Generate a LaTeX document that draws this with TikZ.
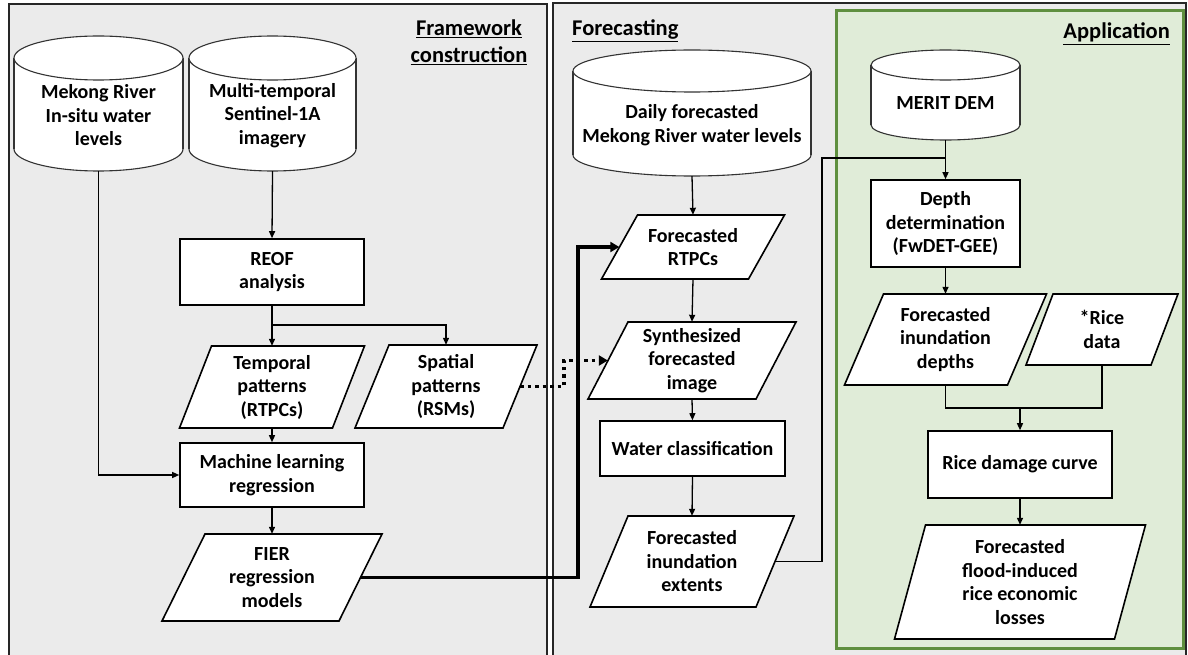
\documentclass[tikz,border=0pt]{standalone}
\usepackage{fontspec}
\setmainfont{Carlito}
\usetikzlibrary{arrows.meta}
\definecolor{panelgray}{HTML}{EBEBEB}
\definecolor{appfill}{HTML}{E0ECD8}
\definecolor{appline}{HTML}{5F8F3F}
\tikzset{
  panel/.style={draw=black!85, line width=2.6pt, fill=panelgray},
  apppanel/.style={draw=appline, line width=3pt, fill=appfill},
  txt/.style={inner sep=0pt, align=center, font=\fontsize{20}{23.5}\selectfont\bfseries},
  box/.style={txt, draw, line width=1.6pt, fill=white},
  shapeline/.style={draw, line width=1.6pt},
  cylline/.style={draw=black!80, line width=1.1pt},
  ttl/.style={inner sep=0pt, align=center, font=\fontsize{22.5}{27}\selectfont\bfseries},
  conn/.style={line width=1.3pt},
  arr/.style={conn, -{Triangle[length=7pt,width=6pt]}},
  thickarr/.style={line width=3.4pt, -{Triangle[length=9pt,width=10pt]}},
  dotarr/.style={line width=3.2pt, dash pattern=on 3.5pt off 4pt, -{Triangle[length=9pt,width=10pt]}},
}
\newcommand\drawcyl[8]{%
  \pgfmathsetmacro\cylcx{(#2+#3)/2}%
  \pgfmathsetmacro\cylrx{(#3-#2)/2}%
  \pgfmathsetmacro\cylyt{#4+#6}%
  \pgfmathsetmacro\cylyb{#5-#6}%
  \filldraw[cylline, fill=white] (\cylcx,\cylyb) ellipse[x radius=\cylrx, y radius=#6];
  \fill[white] (#2,\cylyt) rectangle (#3,\cylyb);
  \draw[cylline] (#2,\cylyt) -- (#2,\cylyb) (#3,\cylyt) -- (#3,\cylyb);
  \filldraw[cylline, fill=white] (\cylcx,\cylyt) ellipse[x radius=\cylrx, y radius=#6];
  \node[inner sep=0pt, minimum width=#3-#2, minimum height=#5-#4] (#1) at (\cylcx,{(#4+#5)/2}) {};
  \node[txt] (#1-t) at (\cylcx,#7) {#8};
}
\newcommand\drawpara[7]{%
  \pgfmathsetmacro\parTL{#2-#5/2+#6/2}%
  \pgfmathsetmacro\parTR{#2+#5/2+#6/2}%
  \pgfmathsetmacro\parBR{#2+#5/2-#6/2}%
  \pgfmathsetmacro\parBL{#2-#5/2-#6/2}%
  \draw[shapeline, fill=white] (\parTL,#3) -- (\parTR,#3) -- (\parBR,#4) -- (\parBL,#4) -- cycle;
  \node[txt, minimum width=#5, minimum height=#4-#3] (#1) at (#2,{(#3+#4)/2}) {#7};
}
\begin{document}
\begin{tikzpicture}[x=1pt,y=-1pt]
\clip (0,0) rectangle (1188,655);
\fill[white] (0,0) rectangle (1188,655);
% panels
\draw[panel] (9,4) rectangle (547,672);
\draw[panel] (553,3) rectangle (1186,672);
\draw[apppanel] (836,11) rectangle (1183,648);
% titles
\node[ttl, anchor=base] (tframe) at (469,63) {\underline{Framework}\\\underline{construction}};
\node[ttl, anchor=base west] (tfore) at (572,36) {\underline{Forecasting}};
\node[ttl, anchor=base east] (tapp) at (1170,39) {\underline{Application}};
% framework construction
\drawcyl{mek}{14}{183}{36}{171}{22}{115.5}{Mekong River\\In-situ water\\levels}
\drawcyl{sen}{189}{356}{36}{171}{22}{115.5}{Multi-temporal\\Sentinel-1A\\imagery}
\node[box, minimum width=184, minimum height=66] (reof) at (272,272) {REOF\\analysis};
\drawpara{temp}{272}{346}{428}{153}{32}{Temporal\\patterns\\(RTPCs)}
\drawpara{spat}{446}{345}{428}{148}{34}{Spatial\\patterns\\(RSMs)}
\node[box, minimum width=184, minimum height=64] (ml) at (272,475) {Machine learning\\regression};
\drawpara{fier}{272}{534}{621}{177}{43}{FIER\\regression\\models}
% forecasting
\drawcyl{daily}{573}{811}{50}{176}{21}{125}{Daily forecasted\\Mekong River water levels}
\drawpara{rtpc}{693}{215}{279}{147}{36}{Forecasted\\RTPCs}
\drawpara{synth}{692}{322}{399}{168}{40}{Synthesized\\forecasted\\image}
\node[box, minimum width=185, minimum height=55] (water) at (692.5,448.5) {Water classification};
\drawpara{ext}{692}{516}{607}{166}{38}{Forecasted\\inundation\\extents}
% application
\drawcyl{merit}{871}{1020}{50}{140}{15}{103}{MERIT DEM}
\node[box, minimum width=149, minimum height=87] (depth) at (945.5,223.5) {Depth\\determination\\(FwDET-GEE)};
\drawpara{depths}{945.5}{294}{385}{163}{39}{Forecasted\\inundation\\depths}
\drawpara{rice}{1102}{294}{365}{125}{27}{*Rice\\data}
\node[box, minimum width=184, minimum height=67] (damage) at (1020,464.5) {Rice damage curve};
\drawpara{loss}{1020}{525}{639}{220}{31}{Forecasted\\flood-induced\\rice economic\\losses}
% connectors
\coordinate (j1) at (272,325);
\coordinate (t1) at (578,0);
\coordinate (d1) at (564,0);
\coordinate (m1) at (822,0);
\coordinate (j2) at (945.5,158);
\coordinate (j3) at (1020,408);
\draw[arr] (mek.south) |- (ml.west);
\draw[arr] (sen.south) -- (reof.north);
\draw[conn] (reof.south) -- (j1);
\draw[arr] (j1) -- (temp.north);
\draw[arr] (j1) -| (spat.north);
\draw[arr] (temp.south) -- (ml.north);
\draw[arr] (ml.south) -- (fier.north);
\draw[thickarr] (fier.east) -- (fier.east -| t1) |- (rtpc.west);
\draw[dotarr] (spat.east) -- (spat.east -| d1) |- (synth.west);
\draw[arr] (daily.south) -- (rtpc.north);
\draw[arr] (rtpc.south) -- (synth.north);
\draw[arr] (synth.south) -- (water.north);
\draw[arr] (water.south) -- (ext.north);
\draw[conn] (ext.east) -- (ext.east -| m1) |- (j2);
\draw[arr] (merit.south) -- (depth.north);
\draw[arr] (depth.south) -- (depths.north);
\draw[conn] (depths.south) |- (j3) -| (rice.south);
\draw[arr] (j3) -- (damage.north);
\draw[arr] (damage.south) -- (loss.north);
\end{tikzpicture}
\end{document}
